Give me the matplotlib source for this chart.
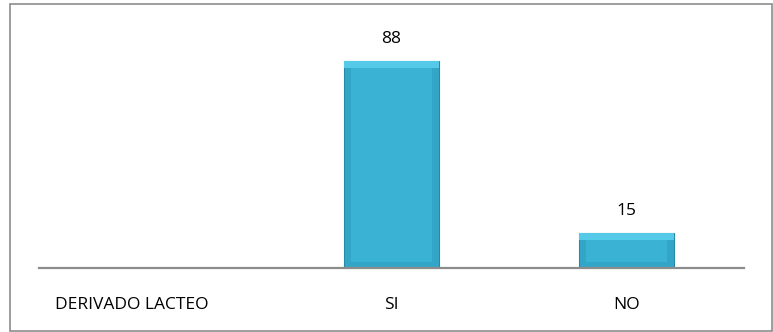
import numpy as np
import matplotlib.pyplot as plt
import matplotlib.transforms as mtransforms
from matplotlib.patches import Rectangle

categorias = ['DERIVADO LACTEO', 'SI', 'NO']
valores = [np.nan, 88, 15]

plt.rcParams['font.family'] = ['Open Sans', 'DejaVu Sans']

fig = plt.figure(figsize=(7.73, 3.32), dpi=100)
ax = fig.add_axes([39 / 773, 64 / 332, 705 / 773, 235 / 332])

x = np.arange(len(categorias))
alto = np.nan_to_num(valores)
bisel_sup = np.minimum(alto, 3.0)
bisel_inf = np.minimum(alto, 2.5)

# barra con efecto de bisel: lados, franja superior clara y cara interior
ax.bar(x, alto, width=0.404, color='#33A6C7', edgecolor='#2789A6', linewidth=0.8, zorder=2)
ax.bar(x, bisel_sup, bottom=alto - bisel_sup, width=0.404, color='#55C9E8',
       linewidth=0, zorder=2.1)
ax.bar(x, alto - bisel_sup - bisel_inf, bottom=bisel_inf, width=0.345,
       color='#3AB2D3', linewidth=0, zorder=2.2)

for xi, v in zip(x, valores):
    if not np.isnan(v):
        ax.text(xi, v + 6, f'{v:g}', ha='center', va='bottom', fontsize=12.5, color='black')

ax.set_xlim(-0.5, 2.5)
ax.set_ylim(0, 100)
ax.set_xticks(x)
ax.set_xticklabels(categorias, fontsize=12.5)
ax.tick_params(axis='x', length=0, pad=21)
ax.set_yticks([])
for s in ['top', 'right', 'left']:
    ax.spines[s].set_visible(False)
ax.spines['bottom'].set_color('#8C8C8C')
ax.spines['bottom'].set_linewidth(1.6)
ax.spines['bottom'].set_zorder(3)

# la primera etiqueta queda algo a la izquierda
lab = ax.get_xticklabels()[0]
lab.set_transform(lab.get_transform() + mtransforms.ScaledTranslation(-0.25, 0, fig.dpi_scale_trans))

# marco exterior
fig.patches.append(Rectangle((9.5 / 773, 0.002), 762 / 773, 1 - 4 / 332 - 0.002,
                             transform=fig.transFigure, fill=False,
                             edgecolor='#8C8C8C', linewidth=1.2))

fig.savefig('out.png', dpi=100)
